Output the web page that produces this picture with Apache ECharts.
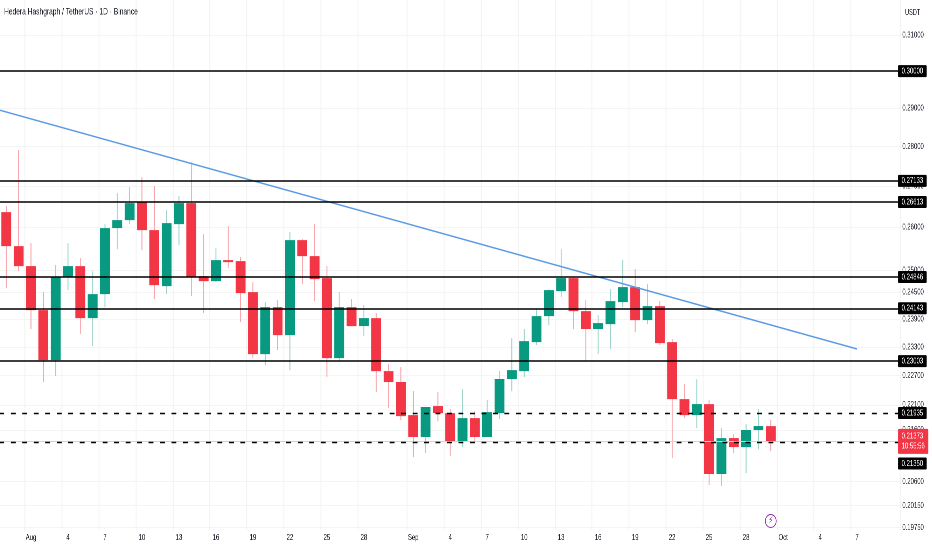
<!DOCTYPE html>
<html><head><meta charset="utf-8">
<style>html,body{margin:0;padding:0;background:#fff;overflow:hidden;width:932px;height:550px}
#c{width:1331.43px;height:550px;transform:scaleX(0.7);transform-origin:0 0}</style>
<script src="https://cdn.jsdelivr.net/npm/echarts@6/dist/echarts.min.js"></script>
</head><body><div id="c"></div>
<script>
const titleText = "Hedera Hashgraph / TetherUS · 1D · Binance";
const currencyText = "USDT";
const dates = ["Jul 29","Jul 30","Jul 31",
"Aug 1","Aug 2","Aug 3","Aug 4","Aug 5","Aug 6","Aug 7","Aug 8","Aug 9","Aug 10","Aug 11","Aug 12","Aug 13","Aug 14","Aug 15","Aug 16","Aug 17","Aug 18","Aug 19","Aug 20","Aug 21","Aug 22","Aug 23","Aug 24","Aug 25","Aug 26","Aug 27","Aug 28","Aug 29","Aug 30","Aug 31",
"Sep 1","Sep 2","Sep 3","Sep 4","Sep 5","Sep 6","Sep 7","Sep 8","Sep 9","Sep 10","Sep 11","Sep 12","Sep 13","Sep 14","Sep 15","Sep 16","Sep 17","Sep 18","Sep 19","Sep 20","Sep 21","Sep 22","Sep 23","Sep 24","Sep 25","Sep 26","Sep 27","Sep 28","Sep 29","Sep 30",
"Oct 1","Oct 2","Oct 3","Oct 4","Oct 5","Oct 6","Oct 7","Oct 8","Oct 9","Oct 10"];
const candleDates = dates.slice(1, 64);
const opens = [.26366,.25558,.25094,.24103,.23024,.24842,.25094,.23927,.24459,.25983,.26174,.26608,.25935,.24638,.26078,.26584,.24865,.24751,.25232,.25209,.24503,.23151,.24170,.23558,.25699,.25325,.24820,.23066,.24170,.23753,.23927,.22793,.22566,.21893,.21457,.22075,.21933,.21359,.21833,.21457,.21933,.22628,.22793,.23407,.23971,.24526,.24820,.24081,.23688,.23796,.24280,.24616,.23883,.24192,.23407,.22216,.21893,.22115,.20742,.21437,.21261,.21595,.21674];
const closes = [.25558,.25094,.24103,.23024,.24842,.25094,.23927,.24459,.25983,.26174,.26584,.25935,.24661,.26102,.26584,.24842,.24751,.25232,.25186,.24481,.23151,.24170,.23558,.25699,.25325,.24797,.23066,.24170,.23753,.23927,.22793,.22566,.21873,.21457,.22055,.21933,.21359,.21833,.21457,.21953,.22628,.22814,.23429,.23971,.24548,.24820,.24081,.23688,.23818,.24303,.24616,.23883,.24192,.23386,.22216,.21893,.22115,.20742,.21437,.21261,.21595,.21674,.21359];
const highs = [.26511,.27906,.25629,.24503,.25117,.25629,.25278,.24979,.26078,.26829,.26977,.27224,.27002,.26414,.26755,.27602,.25840,.25511,.26030,.25302,.24729,.24280,.24325,.25888,.25723,.26078,.25094,.24503,.24347,.24214,.24037,.22940,.22877,.22380,.22055,.22359,.22014,.22421,.21974,.22196,.22793,.23493,.23688,.24125,.24571,.25488,.24842,.24325,.23993,.24571,.25232,.25025,.24684,.24303,.23472,.22524,.22628,.22196,.21634,.21516,.21714,.22014,.21793];
const lows = [.24593,.24979,.23688,.22566,.22690,.24548,.23580,.23322,.24170,.25488,.26078,.25464,.24347,.24459,.25582,.24414,.24037,.24729,.25048,.23840,.23066,.22919,.23236,.22814,.24684,.24303,.22669,.22982,.23753,.23536,.22359,.22034,.21793,.21068,.21145,.21773,.21087,.21261,.21378,.21457,.21813,.22380,.22669,.23343,.23774,.24392,.23688,.23003,.23151,.23257,.24170,.23623,.23796,.23343,.21048,.21833,.21634,.20534,.20515,.21145,.20761,.21222,.21184];
const priceTicks = [0.31,0.30,0.29,0.28,0.27,0.26,0.25,0.245,0.239,0.233,0.227,0.221,0.216,0.206,0.2015,0.1975];
const solidLevels = [0.30,0.27133,0.26613,0.24846,0.24143,0.23003];
const dashedLevels = [0.21935,0.2135];
const currentPrice = 0.21373;
const countdown = "10:55:56";
const trendDates = ["Jul 29","Oct 7"];
const trendValues = [0.2899,0.2326];
const tickDates = ["Aug 1","Aug 4","Aug 7","Aug 10","Aug 13","Aug 16","Aug 19","Aug 22","Aug 25","Aug 28","Sep 1","Sep 4","Sep 7","Sep 10","Sep 13","Sep 16","Sep 19","Sep 22","Sep 25","Sep 28","Oct 1","Oct 4","Oct 7"];
const tickLabels = ["Aug","4","7","10","13","16","19","22","25","28","Sep","4","7","10","13","16","19","22","25","28","Oct","4","7"];
const eventDate = "Sep 30", eventPrice = 0.19869;

const FONT = '"Liberation Sans",Arial,sans-serif';
const UP = '#089981', DOWN = '#F23645', UPW = '#9fd6cc', DOWNW = '#f7a8ae', GRID = '#f4f4f5';
const SX = 0.7; // the page is drawn wide and squeezed horizontally, as the reference image is

const candleData = candleDates.map((d,i)=>[d,opens[i],closes[i],lows[i],highs[i]]);

function renderCandle(params, api){
  const x = api.coord([api.value(0), api.value(1)])[0];
  const o = api.coord([api.value(0), api.value(1)])[1];
  const c = api.coord([api.value(0), api.value(2)])[1];
  const l = api.coord([api.value(0), api.value(3)])[1];
  const h = api.coord([api.value(0), api.value(4)])[1];
  const w = api.size([1,0])[0]*0.8;
  const up = api.value(2) >= api.value(1);
  return {type:'group',children:[
    {type:'line',shape:{x1:x,y1:h,x2:x,y2:l},style:{stroke:up?UPW:DOWNW,lineWidth:1.4}},
    {type:'rect',shape:{x:x-w/2,y:Math.min(o,c),width:w,height:Math.max(Math.abs(o-c),1.5)},style:{fill:up?UP:DOWN}}
  ]};
}

function tagLabel(extra){
  return Object.assign({show:true,position:'end',distance:-3,formatter:p=>p.value.toFixed(5),
    color:'#fff',backgroundColor:'#000',padding:[2,5,1,5],borderRadius:1,fontFamily:FONT,fontSize:8.5,lineHeight:9},extra||{});
}

const chart = echarts.init(document.getElementById('c'),null,{renderer:'canvas',devicePixelRatio:2,width:1331.43,height:550});
chart.setOption({
  animation:false,
  backgroundColor:'#fff',
  title:[
    {text:titleText,left:4/SX,top:7,padding:0,textStyle:{fontFamily:FONT,fontSize:9.5,fontWeight:'normal',color:'#131722'}},
    {text:currencyText,left:905/SX,top:9,padding:0,textStyle:{fontFamily:FONT,fontSize:8,fontWeight:'normal',color:'#131722'}}
  ],
  grid:{left:-12.17/SX,width:912.4/SX,top:0,height:530,containLabel:false,outerBoundsMode:'none'},
  xAxis:{type:'category',data:dates,boundaryGap:true,
    axisLine:{show:false},axisTick:{show:false,alignWithLabel:true,interval:(i,v)=>tickDates.includes(v)},
    axisLabel:{interval:(i,v)=>tickDates.includes(v),formatter:v=>tickLabels[tickDates.indexOf(v)],
      color:'#131722',fontFamily:FONT,fontSize:8.5,margin:3,fontWeight:'normal'},
    splitLine:{show:true,interval:(i,v)=>tickDates.includes(v),lineStyle:{color:GRID,width:1.4}}},
  yAxis:{type:'log',logBase:10,position:'right',min:0.19706,max:0.3202,
    axisLine:{show:false},
    axisTick:{show:false,customValues:priceTicks},
    axisLabel:{customValues:priceTicks,formatter:v=>Number(v).toFixed(5),color:'#131722',fontFamily:FONT,fontSize:8.5,margin:3,showMinLabel:true,showMaxLabel:true},
    splitLine:{show:true,lineStyle:{color:GRID,width:1}}},
  series:[
    {type:'custom',name:'HBARUSDT',renderItem:renderCandle,data:candleData,encode:{x:0,y:[1,2,3,4]},z:2,clip:true},
    {type:'line',name:'Trend',data:trendDates.map((d,i)=>[d,trendValues[i]]),symbol:'none',z:3,
      lineStyle:{color:'#5B9BE6',width:1.5},
      markLine:{silent:true,symbol:['none','none'],animation:false,precision:5,
        data:[
          {yAxis:currentPrice,lineStyle:{color:'#f9c4c8',type:'solid',width:1},
            label:tagLabel({formatter:()=>currentPrice.toFixed(5)+"\n"+countdown,backgroundColor:DOWN,padding:[3,5,2,5],lineHeight:10})},
          ...solidLevels.map(v=>({yAxis:v,lineStyle:{color:'#000',type:'solid',width:1.6},label:tagLabel()})),
          {yAxis:dashedLevels[0],lineStyle:{color:'#000',type:[7,9.4],width:1.4},label:tagLabel()},
          {yAxis:dashedLevels[1],lineStyle:{color:'#000',type:[7,9.4],width:1.4},label:tagLabel({offset:[0,21]})}
        ]},
      markPoint:{silent:true,animation:false,data:[{coord:[eventDate,eventPrice],symbol:'circle',symbolSize:[15.5,13],
        itemStyle:{color:'#fff',borderColor:'#9C27B0',borderWidth:1},
        label:{show:true,position:'inside',formatter:'⚡',color:'#9C27B0',fontFamily:'DejaVu Sans',fontSize:10}}]}
    }
  ]
});
</script></body></html>
